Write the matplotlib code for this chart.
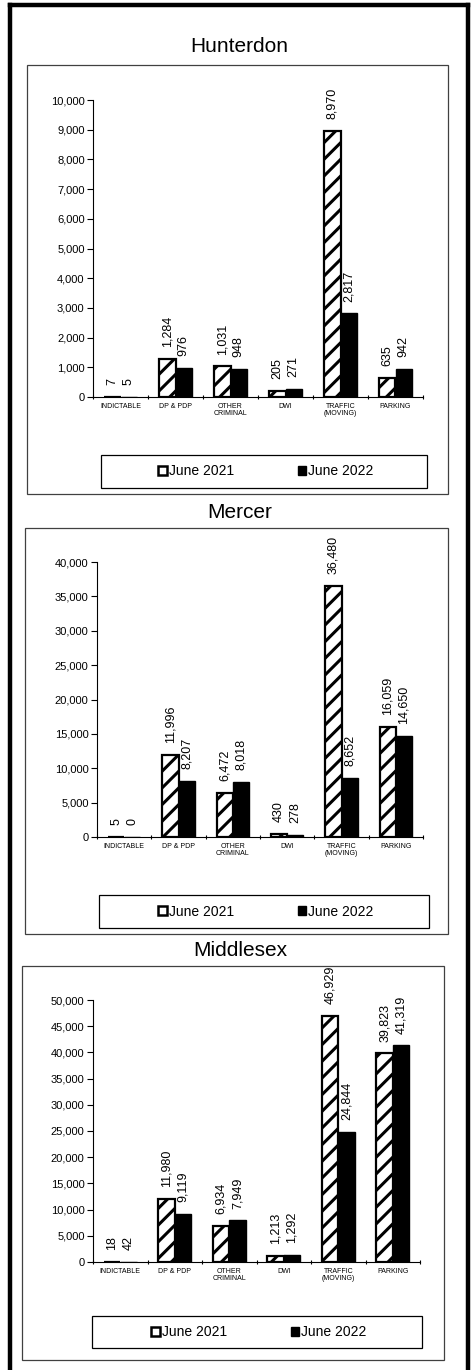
import matplotlib.pyplot as plt
import numpy as np
from matplotlib.patches import Rectangle, Patch
from matplotlib.lines import Line2D

plt.rcParams['font.family'] = ['Liberation Sans', 'DejaVu Sans']
plt.rcParams['hatch.linewidth'] = 2.2

categories = ["INDICTABLE", "DP & PDP", "OTHER\nCRIMINAL", "DWI", "TRAFFIC\n(MOVING)", "PARKING"]
series_names = ["June 2021", "June 2022"]

counties = ["Hunterdon", "Mercer", "Middlesex"]
hunterdon_2021 = [7, 1284, 1031, 205, 8970, 635]
hunterdon_2022 = [5, 976, 948, 271, 2817, 942]
mercer_2021 = [5, 11996, 6472, 430, 36480, 16059]
mercer_2022 = [0, 8207, 8018, 278, 8652, 14650]
middlesex_2021 = [18, 11980, 6934, 1213, 46929, 39823]
middlesex_2022 = [42, 9119, 7949, 1292, 24844, 41319]

y_max = [10000, 40000, 50000]
y_step = [1000, 5000, 5000]

W, H = 472, 1370
fig = plt.figure(figsize=(W / 100, H / 100), dpi=100)

# layout in pixels: axes (left, right, y of top tick, y of zero), chart box, legend box, title
axes_px = [(93, 423, 100, 397), (97, 423, 562, 837), (93, 420, 1000, 1262)]
box_px = [(27, 448, 65, 494), (25, 448, 528, 934), (22, 444, 966, 1360)]
legend_px = [(101, 427, 455, 488), (99, 429, 895, 928), (92, 422, 1316, 1348)]
title_px = [(239, 47), (240, 512), (240, 950)]

data = [(hunterdon_2021, hunterdon_2022), (mercer_2021, mercer_2022),
        (middlesex_2021, middlesex_2022)]


def fx(px):
    return px / W


def fy(py):
    return 1 - py / H


# outer page border (no bottom line)
for xs, ys in [([10, 10], [5, H]), ([467.5, 467.5], [5, H]), ([10, 467.5], [5, 5])]:
    fig.add_artist(Line2D([fx(x) for x in xs], [fy(y) for y in ys], color="black",
                          lw=3.2, transform=fig.transFigure, solid_capstyle="projecting"))

x = np.arange(len(categories))
bw = 0.3

for i, name in enumerate(counties):
    l, r, t, b = axes_px[i]
    ax = fig.add_axes([fx(l), fy(b), (r - l) / W, (b - t) / H])
    v21, v22 = data[i]

    bars1 = ax.bar(x - bw / 2, v21, bw, facecolor="white", edgecolor="black",
                   hatch="//", linewidth=1.6, zorder=3)
    bars2 = ax.bar(x + bw / 2, v22, bw, facecolor="black", edgecolor="black",
                   linewidth=1.0, zorder=3)

    for bars, vals in [(bars1, v21), (bars2, v22)]:
        for bar, v in zip(bars, vals):
            ax.annotate(f"{v:,}", (bar.get_x() + bar.get_width() / 2, v),
                        xytext=(0, 8.5), textcoords="offset points",
                        rotation=90, ha="center", va="bottom", fontsize=9)

    ax.set_xlim(-0.5, len(categories) - 0.5)
    ax.set_ylim(0, y_max[i])
    ax.set_yticks(np.arange(0, y_max[i] + 1, y_step[i]))
    ax.set_yticklabels([f"{t:,}" for t in np.arange(0, y_max[i] + 1, y_step[i])], fontsize=8)
    ax.set_xticks(x)
    ax.set_xticklabels(categories, fontsize=5, linespacing=1.1)
    ax.set_xticks(np.arange(-0.5, len(categories)), minor=True)
    ax.tick_params(axis="x", which="major", length=0, pad=4)
    ax.tick_params(axis="x", which="minor", length=3, direction="inout", width=0.8)
    ax.tick_params(axis="y", length=4, width=0.8, pad=2)
    for s in ["top", "right"]:
        ax.spines[s].set_visible(False)
    ax.spines["left"].set_linewidth(0.8)
    ax.spines["bottom"].set_linewidth(0.8)
    ax.patch.set_alpha(0)

    # chart box
    bl, br, bt, bb = box_px[i]
    fig.add_artist(Rectangle((fx(bl), fy(bb)), (br - bl) / W, (bb - bt) / H,
                             transform=fig.transFigure, fill=False,
                             edgecolor="#404040", lw=0.9))

    # legend box
    ll, lr, lt, lb = legend_px[i]
    fig.add_artist(Rectangle((fx(ll), fy(lb)), (lr - ll) / W, (lb - lt) / H,
                             transform=fig.transFigure, fill=False,
                             edgecolor="black", lw=0.9))
    handles = [Patch(facecolor="white", edgecolor="black", linewidth=1.8),
               Patch(facecolor="black", edgecolor="black")]
    fig.legend(handles, series_names, loc="center",
               bbox_to_anchor=(fx((ll + lr) / 2 + 2), fy((lt + lb) / 2)),
               ncol=2, frameon=False, fontsize=10, handlelength=0.6,
               handleheight=0.6, handletextpad=0.15, columnspacing=4.6)

    tx, ty = title_px[i]
    fig.text(fx(tx), fy(ty), name, ha="center", va="center", fontsize=15)

fig.savefig("out.png", dpi=100)
